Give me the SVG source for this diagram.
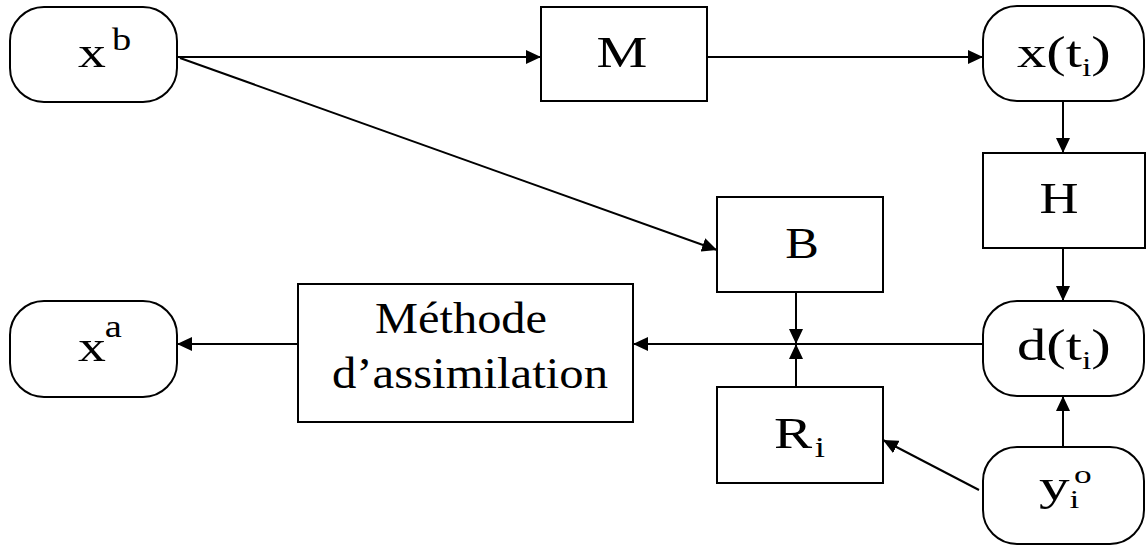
<svg xmlns="http://www.w3.org/2000/svg" width="1146" height="546" viewBox="0 0 1146 546">
<style>
.box{fill:#fff;stroke:#000;stroke-width:2}
.lbl{font-family:"Liberation Serif","Times New Roman",serif;font-size:45px;fill:#000}
.conn line{stroke:#000;stroke-width:2}
</style>
<defs>
<marker id="ah" markerUnits="userSpaceOnUse" markerWidth="16" markerHeight="14" refX="15" refY="7" orient="auto">
<path d="M0,0 L15,7 L0,14 z" fill="#000"/>
</marker>
</defs>
<rect width="1146" height="546" fill="#fff"/>
<g id="connectors" class="conn">
<line x1="177" y1="57" x2="541" y2="57" marker-end="url(#ah)"/>
<line x1="180" y1="58" x2="717" y2="250" marker-end="url(#ah)"/>
<line x1="707" y1="57" x2="983" y2="57" marker-end="url(#ah)"/>
<line x1="1063" y1="101" x2="1063" y2="153" marker-end="url(#ah)"/>
<line x1="1063" y1="248" x2="1063" y2="301" marker-end="url(#ah)"/>
<line x1="1063" y1="447" x2="1063" y2="396" marker-end="url(#ah)"/>
<line x1="979" y1="490" x2="883" y2="440" marker-end="url(#ah)"/>
<line x1="983" y1="344" x2="633" y2="344" marker-end="url(#ah)"/>
<line x1="796" y1="292" x2="796" y2="344" marker-end="url(#ah)"/>
<line x1="796" y1="387" x2="796" y2="344" marker-end="url(#ah)"/>
<line x1="298" y1="344" x2="177" y2="344" marker-end="url(#ah)"/>
</g>
<g id="xb">
<rect class="box" x="10" y="7" width="167" height="95" rx="34" ry="34"/>
<g transform="translate(78,67) scale(1.24,1)"><text class="lbl" x="0" y="0">x<tspan font-size="31" dx="5" dy="-17">b</tspan></text></g>
</g>
<g id="M">
<rect class="box" x="541" y="7" width="166" height="94"/>
<g transform="translate(622,67) scale(1.27,1)"><text class="lbl" x="0" y="0" text-anchor="middle">M</text></g>
</g>
<g id="xti">
<rect class="box" x="983" y="6" width="161" height="95" rx="34" ry="34"/>
<g transform="translate(1017,67) scale(1.3,1)"><text class="lbl" x="0" y="0">x(t<tspan font-size="26" dy="9">i</tspan><tspan dy="-9">)</tspan></text></g>
</g>
<g id="H">
<rect class="box" x="983" y="153" width="162" height="95"/>
<g transform="translate(1059,213) scale(1.2,1)"><text class="lbl" x="0" y="0" text-anchor="middle">H</text></g>
</g>
<g id="B">
<rect class="box" x="717" y="197" width="166" height="95"/>
<g transform="translate(802,258) scale(1.12,1)"><text class="lbl" x="0" y="0" text-anchor="middle">B</text></g>
</g>
<g id="dti">
<rect class="box" x="983" y="301" width="161" height="95" rx="34" ry="34"/>
<g transform="translate(1017,360) scale(1.3,1)"><text class="lbl" x="0" y="0">d(t<tspan font-size="26" dy="9">i</tspan><tspan dy="-9">)</tspan></text></g>
</g>
<g id="Ri">
<rect class="box" x="717" y="387" width="166" height="96"/>
<g transform="translate(774,448) scale(1.27,1)"><text class="lbl" x="0" y="0">R<tspan font-size="29" dx="2" dy="9">i</tspan></text></g>
</g>
<g id="yio">
<rect class="box" x="983" y="447" width="161" height="97" rx="34" ry="34"/>
<g transform="translate(1039,500) scale(1.36,1)"><text class="lbl" x="0" y="0">y<tspan font-size="26" dy="8">i</tspan><tspan font-size="26" dx="-4" dy="-25">o</tspan></text></g>
</g>
<g id="methode">
<rect class="box" x="298" y="284" width="335" height="138"/>
<text class="lbl" font-size="40" x="375" y="333" textLength="172" lengthAdjust="spacingAndGlyphs">Méthode</text>
<text class="lbl" font-size="40" x="332" y="388" textLength="276" lengthAdjust="spacingAndGlyphs">d’assimilation</text>
</g>
<g id="xa">
<rect class="box" x="10" y="301" width="167" height="96" rx="34" ry="34"/>
<g transform="translate(78,361) scale(1.24,1)"><text class="lbl" x="0" y="0">x<tspan font-size="31" dx="-1" dy="-24">a</tspan></text></g>
</g>
</svg>
